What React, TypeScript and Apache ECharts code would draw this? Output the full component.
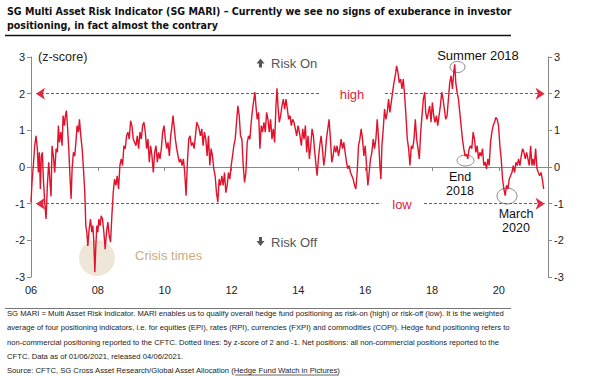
import React, { useEffect, useRef } from 'react';
import * as echarts from 'echarts';

const W = 603;
const H = 376;

// Decimal-year dates and SG MARI z-score values
const dates = [
  2006.00, 2006.03, 2006.07, 2006.11, 2006.15, 2006.19, 2006.22, 2006.25, 2006.28, 2006.31, 2006.34, 2006.37, 2006.41, 2006.45, 2006.49, 2006.53, 2006.57, 2006.60, 2006.63, 2006.67, 2006.71, 2006.75, 2006.79, 2006.82, 2006.85, 2006.89, 2006.93, 2006.96,
  2007.00, 2007.03, 2007.06, 2007.09, 2007.13, 2007.17, 2007.20, 2007.23, 2007.27, 2007.31, 2007.35, 2007.38, 2007.42, 2007.45, 2007.49, 2007.53, 2007.57, 2007.61, 2007.64, 2007.67, 2007.70, 2007.74, 2007.78, 2007.82, 2007.85, 2007.88, 2007.91, 2007.94, 2007.97,
  2008.00, 2008.03, 2008.07, 2008.10, 2008.14, 2008.18, 2008.22, 2008.26, 2008.30, 2008.34, 2008.38, 2008.42, 2008.46, 2008.50, 2008.54, 2008.58, 2008.62, 2008.66, 2008.70, 2008.74, 2008.78, 2008.82, 2008.86, 2008.90, 2008.94, 2008.98,
  2009.02, 2009.06, 2009.10, 2009.14, 2009.18, 2009.22, 2009.26, 2009.30, 2009.34, 2009.38, 2009.42, 2009.46, 2009.50, 2009.54, 2009.58, 2009.62, 2009.66, 2009.70, 2009.74, 2009.78, 2009.82, 2009.86, 2009.90, 2009.94, 2009.98,
  2010.02, 2010.06, 2010.10, 2010.14, 2010.18, 2010.22, 2010.25, 2010.28, 2010.32, 2010.36, 2010.40, 2010.44, 2010.48, 2010.52, 2010.56, 2010.60, 2010.64, 2010.68, 2010.72, 2010.76, 2010.80, 2010.84, 2010.88, 2010.92, 2010.96,
  2011.00, 2011.03, 2011.07, 2011.11, 2011.15, 2011.19, 2011.23, 2011.27, 2011.31, 2011.35, 2011.39, 2011.43, 2011.47, 2011.51, 2011.55, 2011.59, 2011.63, 2011.67, 2011.71, 2011.75, 2011.79, 2011.83, 2011.87, 2011.91, 2011.95, 2011.99,
  2012.03, 2012.07, 2012.11, 2012.15, 2012.19, 2012.23, 2012.27, 2012.31, 2012.35, 2012.39, 2012.43, 2012.47, 2012.51, 2012.55, 2012.59, 2012.63, 2012.67, 2012.70, 2012.73, 2012.77, 2012.81, 2012.85, 2012.89, 2012.93, 2012.97,
  2013.01, 2013.05, 2013.09, 2013.13, 2013.17, 2013.21, 2013.25, 2013.29, 2013.33, 2013.36, 2013.39, 2013.43, 2013.47, 2013.51, 2013.55, 2013.59, 2013.63, 2013.67, 2013.71, 2013.75, 2013.79, 2013.83, 2013.87, 2013.91, 2013.95, 2013.99,
  2014.03, 2014.05, 2014.09, 2014.13, 2014.17, 2014.21, 2014.25, 2014.29, 2014.33, 2014.37, 2014.41, 2014.45, 2014.48, 2014.52, 2014.56, 2014.60, 2014.64, 2014.68, 2014.72, 2014.76, 2014.80, 2014.84, 2014.88, 2014.92, 2014.96,
  2015.00, 2015.04, 2015.08, 2015.12, 2015.16, 2015.20, 2015.24, 2015.28, 2015.32, 2015.36, 2015.40, 2015.44, 2015.48, 2015.52, 2015.56, 2015.60, 2015.64, 2015.68, 2015.72, 2015.76, 2015.80, 2015.84, 2015.88, 2015.92, 2015.96,
  2016.00, 2016.04, 2016.08, 2016.12, 2016.16, 2016.20, 2016.24, 2016.28, 2016.32, 2016.36, 2016.40, 2016.44, 2016.47, 2016.50, 2016.54, 2016.58, 2016.62, 2016.66, 2016.70, 2016.74, 2016.78, 2016.82, 2016.86, 2016.90, 2016.94, 2016.98,
  2017.02, 2017.06, 2017.10, 2017.14, 2017.18, 2017.22, 2017.26, 2017.30, 2017.34, 2017.38, 2017.42, 2017.46, 2017.50, 2017.54, 2017.58, 2017.62, 2017.66, 2017.70, 2017.74, 2017.78, 2017.81, 2017.85, 2017.89, 2017.93, 2017.97,
  2018.01, 2018.05, 2018.09, 2018.13, 2018.17, 2018.21, 2018.25, 2018.29, 2018.33, 2018.37, 2018.41, 2018.45, 2018.49, 2018.53, 2018.57, 2018.61, 2018.65, 2018.68, 2018.71, 2018.75, 2018.79, 2018.83, 2018.87, 2018.91, 2018.95, 2018.99,
  2019.03, 2019.07, 2019.11, 2019.15, 2019.19, 2019.23, 2019.27, 2019.31, 2019.35, 2019.39, 2019.43, 2019.47, 2019.51, 2019.55, 2019.59, 2019.63, 2019.67, 2019.71, 2019.75, 2019.79, 2019.83, 2019.87, 2019.91, 2019.95, 2019.99,
  2020.03, 2020.07, 2020.11, 2020.15, 2020.19, 2020.23, 2020.27, 2020.31, 2020.35, 2020.39, 2020.43, 2020.47, 2020.51, 2020.55, 2020.59, 2020.63, 2020.67, 2020.71, 2020.75, 2020.79, 2020.83, 2020.87, 2020.91, 2020.95, 2020.99,
  2021.02, 2021.06, 2021.10, 2021.14, 2021.18, 2021.22, 2021.26, 2021.30, 2021.34,
];

const values = [
  -0.96, -0.42, 0.04, 0.58, 0.85, 0.5, -0.15, 0.4, -0.6, 0.3, 0.4, -0.33, -0.96, -1.42, -0.5, 0.13, -0.42, -0.8, 0.58, 0.3, -0.15, 0.5, 0.4, 1.13, 0.67, 0.95, 0.58, 1.4,
  1.13, 1.4, 1.54, 1.13, 0.5, -0.33, -0.87, -0.05, 0.4, 0.3, 0.76, 1.13, 0.95, 1.3, 0.85, 0.5, -0.05, -0.7, -1.6, -1.78, -2.15, -1.7, -1.42, -1.78, -1.6, -2.05, -2.87, -2.15, -1.6,
  -1.78, -1.42, -1.6, -1.33, -1.42, -1.78, -2.24, -1.78, -1.5, -1.87, -2.05, -1.33, -0.7, -0.33, -0.5, -0.24, -0.6, 0.04, 0.22, 0.04, 0.58, 0.5, 0.85, 0.95, 0.76, 1.26,
  1.13, 0.76, 0.67, 0.58, 0.85, 0.5, 0.95, 0.76, 1.13, 1.22, 0.95, 0.5, 0.76, 0.13, 0.58, 0.3, -0.15, 0.4, 0.58, 0.13, 0.4, 0.22, 0.5, 0.95, 1.13,
  0.76, 0.5, 0.67, 0.3, 0.85, 1.13, 1.4, 1.13, 0.76, 0.5, 0.3, 0.13, 0.22, 0.04, 0.22, -0.15, -0.78, 0.13, 0.76, 0.85, 0.58, 0.67, 0.5, 0.85, 1.22,
  1.13, 1.04, 0.85, 1.04, 0.58, 0.95, 0.76, 0.3, 0.85, 0.04, 0.5, 0.3, -0.05, -0.24, -0.7, -0.96, -0.33, -0.5, -0.24, -0.5, -0.15, -0.7, -0.5, -0.15, -0.33, 0.04,
  0.3, 0.58, 0.76, 1.22, 1.67, 1.4, 0.85, 0.76, 0.04, -0.42, -0.15, 0.67, 0.85, 0.76, 1.22, 1.58, 1.85, 2.04, 1.67, 1.3, 1.49, 0.5, 1.13, 0.95, 1.22,
  0.95, 1.49, 1.3, 0.95, 1.3, 0.76, 1.04, 0.67, 1.67, 2.15, 1.67, 1.22, 1.4, 1.67, 1.85, 1.58, 1.85, 1.58, 1.3, 1.4, 1.13, 1.3, 1.22, 1.04, 0.85, 1.13,
  0.95, 0.95, 0.58, 1.04, 0.76, 1.13, 0.4, 0.85, 0.22, 0.58, 1.04, 0.85, 0.5, 0.13, -0.24, 0.22, 0.58, 0.85, 0.5, 0.04, 0.3, 0.76, 1.04, 1.3, 0.76,
  0.13, 0.3, 0.58, 0.4, 0.58, 0.3, 0.5, 0.76, 0.5, 0.67, 0.4, 0.13, -0.05, 0.04, -0.15, -0.24, -0.33, -0.5, -0.6, -0.15, 0.58, 0.76, 1.04, 0.76, 0.3,
  0.58, 0.04, -0.5, -0.15, 0.22, 0.4, 0.76, 0.5, 0.76, 1.3, 0.76, 0.04, -0.33, 0.58, 1.04, 1.58, 1.3, 1.49, 1.85, 1.49, 1.76, 2.04, 2.3, 2.49, 2.76, 2.58,
  2.3, 2.4, 2.13, 2.4, 1.95, 1.4, 0.76, 0.5, 0.04, 0.58, 0.5, 0.76, 1.3, 0.76, 0.5, 0.22, 0.95, 1.4, 1.85, 2.04, 1.49, 1.3, 1.49, 1.67, 1.22,
  1.76, 1.4, 1.22, 1.4, 1.13, 1.4, 1.67, 2.04, 1.85, 1.58, 1.3, 1.4, 1.85, 2.3, 2.49, 2.13, 2.58, 2.8, 2.3, 2.04, 1.85, 1.49, 1.13, 0.76, 0.5, 0.3,
  0.35, 0.22, 0.5, 0.58, 0.5, 0.95, 0.76, 0.4, 0.58, 0.22, 0.4, 0.3, 0.5, 0.04, 0.13, -0.05, 0.22, 0.04, 0.67, 0.95, 1.13, 1.22, 1.35, 1.3, 1.13,
  0.58, 0.22, -0.33, -0.6, -0.78, -0.5, -0.6, -0.33, -0.24, -0.15, 0.04, -0.15, 0.13, 0.04, 0.22, 0.04, 0.3, 0.5, 0.4, 0.22, 0.4, 0.22, 0.04, 0.58, 0.04,
  0.22, 0.04, 0.5, -0.05, -0.15, -0.24, -0.15, -0.33, -0.6,
];

const xTickYears = [2006, 2008, 2010, 2012, 2014, 2016, 2018, 2020];
const xTickLabels = ['06', '08', '10', '12', '14', '16', '18', '20'];
const yTicks = [-3, -2, -1, 0, 1, 2, 3];

const thresholdValues = [2, -1];
const thresholdLabels = ['high', 'low'];

const titleLines = [
  'SG Multi Asset Risk Indicator (SG MARI) \u2013 Currently we see no signs of exuberance in investor',
  'positioning, in fact almost the contrary',
];

const noteLines = [
  'SG MARI = Multi Asset Risk Indicator. MARI enables us to qualify overall hedge fund positioning as risk-on (high) or risk-off (low). It is the weighted',
  'average of four positioning indicators, i.e. for equities (EPI), rates (RPI), currencies (FXPI) and commodities (COPI). Hedge fund positioning refers to',
  'non-commercial positioning reported to the CFTC. Dotted lines: 5y z-score of 2 and -1. Net positions: all non-commercial positions reported to the',
  'CFTC. Data as of 01/06/2021, released 04/06/2021.',
];
const sourcePrefix = 'Source: CFTC, SG Cross Asset Research/Global Asset Allocation (';
const sourceLink = 'Hedge Fund Watch in Pictures';
const sourceSuffix = ')';

const SANS = "'Liberation Sans', Arial, sans-serif";
const TITLE_FONT = "'Liberation Sans Narrow', 'DejaVu Sans Condensed', 'Liberation Sans', sans-serif";

function measure(text: string, font: string): number {
  const c = document.createElement('canvas');
  const ctx = c.getContext('2d');
  if (!ctx) return text.length * 6;
  ctx.font = font;
  return ctx.measureText(text).width;
}

function fitSize(text: string, family: string, weight: string, target: number, base: number): number {
  const w = measure(text, `${weight} ${base}px ${family}`);
  if (!w) return base;
  return Math.round((base * target / w) * 100) / 100;
}

export default function App() {
  const ref = useRef<HTMLDivElement>(null);

  useEffect(() => {
    if (!ref.current) return;
    const chart = echarts.init(ref.current, undefined, { renderer: 'svg', width: W, height: H });

    const redLine = '#e1122b';
    const dashRed = '#e0283f';

    const titleSize = fitSize(titleLines[0], TITLE_FONT, 'bold', 505, 13);
    const noteSize = fitSize(noteLines[0], SANS, 'normal', 498, 8);
    const noteFont = `normal ${noteSize}px ${SANS}`;
    const prefixW = measure(sourcePrefix, noteFont);
    const linkW = measure(sourceLink, noteFont);

    const noteY = [313, 327.5, 342, 356, 370.5];
    const xMin = 2006;
    const xMax = 2021.47;

    const seriesData = dates.map((d, i) => [d, values[i]]);

    const arrowLeft = 2006.15;
    const arrowRight = 2021.37;
    const gapStart = [2014.65, 2016.48];
    const gapEnd = [2016.59, 2017.76];

    const markData: any[] = [];
    thresholdValues.forEach((v, i) => {
      markData.push([
        { coord: [arrowLeft, v], symbol: 'arrow' },
        { coord: [gapStart[i], v], symbol: 'none' },
      ]);
      markData.push([
        { coord: [gapEnd[i], v], symbol: 'none' },
        { coord: [arrowRight, v], symbol: 'arrow' },
      ]);
    });

    const textStyle = (extra: any) => ({ fontFamily: SANS, ...extra });

    const graphic: any[] = [
      // title
      ...titleLines.map((t, i) => ({
        type: 'text', x: 7, y: i === 0 ? 10.5 : 25,
        style: { text: t, font: `bold ${titleSize}px ${TITLE_FONT}`, fill: '#111', verticalAlign: 'middle' },
      })),
      { type: 'line', shape: { x1: 5, y1: 35.5, x2: 511, y2: 35.5 }, style: { stroke: '#111', lineWidth: 1.5 } },
      // crisis bubble
      { type: 'circle', z: -10, shape: { cx: 97, cy: 258, r: 18 }, style: { fill: '#ece3d3', opacity: 0.9 } },
      { type: 'text', x: 135, y: 255, style: textStyle({ text: 'Crisis times', fontSize: 13, fill: '#c9ad80', verticalAlign: 'middle' }) },
      { type: 'text', x: 38, y: 57, style: textStyle({ text: '(z-score)', fontSize: 12.5, fill: '#222', verticalAlign: 'middle' }) },
      // risk on / off
      { type: 'polygon', shape: { points: [[256.5, 63.5], [260.5, 58.5], [264.5, 63.5], [262, 63.5], [262, 67.5], [259, 67.5], [259, 63.5]] }, style: { fill: '#555' } },
      { type: 'text', x: 271, y: 63, style: textStyle({ text: 'Risk On', fontSize: 13, fill: '#555', verticalAlign: 'middle' }) },
      { type: 'polygon', shape: { points: [[256.5, 241], [260.5, 246], [264.5, 241], [262, 241], [262, 237], [259, 237], [259, 241]] }, style: { fill: '#555' } },
      { type: 'text', x: 271, y: 242, style: textStyle({ text: 'Risk Off', fontSize: 13, fill: '#555', verticalAlign: 'middle' }) },
      // threshold labels
      { type: 'text', x: 352, y: 94, style: textStyle({ text: thresholdLabels[0], fontSize: 13, fill: '#d9263c', align: 'center', verticalAlign: 'middle' }) },
      { type: 'text', x: 402, y: 204, style: textStyle({ text: thresholdLabels[1], fontSize: 13, fill: '#d9263c', align: 'center', verticalAlign: 'middle' }) },
      // callouts
      { type: 'text', x: 478, y: 55, style: textStyle({ text: 'Summer 2018', fontSize: 13, fill: '#111', align: 'center', verticalAlign: 'middle' }) },
      { type: 'ellipse', shape: { cx: 457.5, cy: 67, rx: 7.5, ry: 5.5 }, style: { fill: 'none', stroke: '#888', lineWidth: 1 } },
      { type: 'ellipse', shape: { cx: 465.5, cy: 160.5, rx: 8.5, ry: 5.5 }, style: { fill: 'none', stroke: '#888', lineWidth: 1 } },
      { type: 'text', x: 460, y: 177, style: textStyle({ text: 'End', fontSize: 12.5, fill: '#111', align: 'center', verticalAlign: 'middle' }) },
      { type: 'text', x: 460, y: 191, style: textStyle({ text: '2018', fontSize: 12.5, fill: '#111', align: 'center', verticalAlign: 'middle' }) },
      { type: 'ellipse', shape: { cx: 507, cy: 196, rx: 10, ry: 8 }, style: { fill: 'none', stroke: '#888', lineWidth: 1 } },
      { type: 'text', x: 516, y: 213.5, style: textStyle({ text: 'March', fontSize: 12.5, fill: '#111', align: 'center', verticalAlign: 'middle' }) },
      { type: 'text', x: 516, y: 227.5, style: textStyle({ text: '2020', fontSize: 12.5, fill: '#111', align: 'center', verticalAlign: 'middle' }) },
      // footnote
      { type: 'line', shape: { x1: 5, y1: 308.5, x2: 511, y2: 308.5 }, style: { stroke: '#777', lineWidth: 1 } },
      ...noteLines.map((t, i) => ({
        type: 'text', x: 7, y: noteY[i],
        style: { text: t, font: noteFont, fill: '#222', verticalAlign: 'middle' },
      })),
      {
        type: 'text', x: 7, y: noteY[4],
        style: { text: sourcePrefix + sourceLink + sourceSuffix, font: noteFont, fill: '#222', verticalAlign: 'middle' },
      },
      { type: 'line', shape: { x1: 7 + prefixW, y1: noteY[4] + 4.5, x2: 7 + prefixW + linkW, y2: noteY[4] + 4.5 }, style: { stroke: '#222', lineWidth: 0.7 } },
    ];

    const axisColor = '#888';
    const yAxisBase = (position: 'left' | 'right') => ({
      type: 'value',
      position,
      min: yTicks[0],
      max: yTicks[yTicks.length - 1],
      interval: 1,
      axisLine: { show: true, lineStyle: { color: axisColor, width: 1 } },
      axisTick: { show: true, length: 4, lineStyle: { color: axisColor } },
      axisLabel: { color: '#222', fontSize: 11, fontFamily: SANS, margin: 6, formatter: (v: number) => String(v) },
      splitLine: { show: false },
    });

    chart.setOption({
      animation: false,
      backgroundColor: '#fff',
      grid: { left: 31, right: 55, top: 57, bottom: 99, containLabel: false },
      xAxis: {
        type: 'value',
        min: xMin,
        max: xMax,
        interval: 2,
        axisLine: { show: true, lineStyle: { color: axisColor, width: 1 } },
        axisTick: { show: true, length: 4, lineStyle: { color: axisColor } },
        axisLabel: {
          color: '#222', fontSize: 11, fontFamily: SANS, margin: 7,
          formatter: (v: number) => {
            const idx = xTickYears.indexOf(Math.round(v));
            return idx >= 0 && Math.abs(v - Math.round(v)) < 1e-6 ? xTickLabels[idx] : '';
          },
        },
        splitLine: { show: false },
      },
      yAxis: [yAxisBase('left'), yAxisBase('right')],
      series: [
        {
          type: 'line',
          data: seriesData,
          showSymbol: false,
          symbol: 'none',
          z: 3,
          lineStyle: { color: redLine, width: 1.4 },
          markLine: {
            silent: true,
            symbolSize: 9,
            label: { show: false },
            lineStyle: { color: dashRed, type: [3, 2], width: 1 },
            emphasis: { disabled: true },
            data: markData,
          },
        },
      ],
      graphic,
    });

    return () => chart.dispose();
  }, []);

  return (
    <div style={{ position: 'fixed', left: 0, top: 0, width: W, height: H, background: '#fff' }}>
      <div ref={ref} style={{ width: W, height: H }} />
    </div>
  );
}
